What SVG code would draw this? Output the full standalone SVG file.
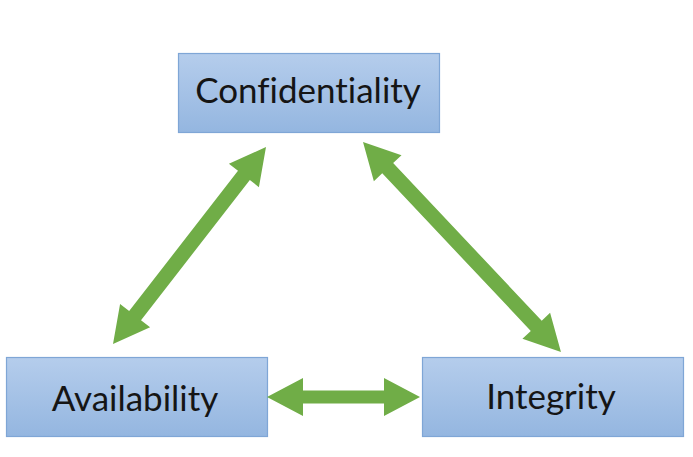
<svg xmlns="http://www.w3.org/2000/svg" width="693" height="457" viewBox="0 0 693 457">
<defs>
<linearGradient id="boxfill" x1="0" y1="0" x2="0" y2="1">
<stop offset="0" stop-color="#b5cdec"/>
<stop offset="1" stop-color="#94b6e0"/>
</linearGradient>
<style>
.box{fill:url(#boxfill);stroke:#7fa6d6;stroke-width:1.2}
.lbl{font-family:Lato,"Open Sans","Liberation Sans",sans-serif;font-size:35px;fill:#151515;text-anchor:middle;font-variant-ligatures:none}
.arr{fill:#70ad47}
</style>
</defs>
<rect width="693" height="457" fill="#ffffff"/>
<g id="confidentiality">
<rect class="box" x="178.5" y="53.5" width="261" height="79"/>
<text class="lbl" x="308" y="103">Confidentiality</text>
</g>
<g id="availability">
<rect class="box" x="6.5" y="357.5" width="261" height="79"/>
<text class="lbl" x="135" y="411">Availability</text>
</g>
<g id="integrity">
<rect class="box" x="422.5" y="357.5" width="261" height="79"/>
<text class="lbl" x="551" y="409">Integrity</text>
</g>
<g id="connectors">
<polygon class="arr" transform="translate(113,344) rotate(-52.16)" points="0,0 36,-19 36,-7.5 213.4,-7.5 213.4,-19 249.4,0 213.4,19 213.4,7.5 36,7.5 36,19"/>
<polygon class="arr" transform="translate(363,142) rotate(46.69)" points="0,0 36,-19 36,-7.5 252.6,-7.5 252.6,-19 288.6,0 252.6,19 252.6,7.5 36,7.5 36,19"/>
<polygon class="arr" transform="translate(267,397)" points="0,0 36,-19 36,-6.5 117,-6.5 117,-19 153,0 117,19 117,6.5 36,6.5 36,19"/>
</g>
</svg>
